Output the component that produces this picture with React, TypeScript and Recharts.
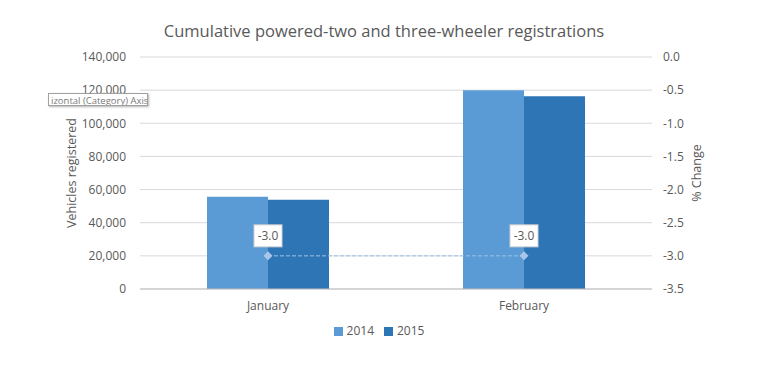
import React from 'react';
import {
  ComposedChart,
  Bar,
  Line,
  XAxis,
  YAxis,
  CartesianGrid,
  Legend,
  LabelList,
} from 'recharts';

const months = ['January', 'February'];
const reg2014 = [55600, 119900];
const reg2015 = [53900, 116300];
const pctChange = [-3.0, -3.0];
const leftTicks = [0, 20000, 40000, 60000, 80000, 100000, 120000, 140000];
const rightTicks = [-3.5, -3.0, -2.5, -2.0, -1.5, -1.0, -0.5, 0];

const data = months.map((m, i) => ({
  month: m,
  y2014: reg2014[i],
  y2015: reg2015[i],
  pct: pctChange[i],
}));

const FONT = '"Open Sans", "Noto Sans", sans-serif';
const GREY = '#595959';

const Diamond = (props: any) => {
  const { cx, cy } = props;
  if (cx == null || cy == null) return null;
  return (
    <path
      d={`M${cx},${cy - 4.5} L${cx + 4.5},${cy} L${cx},${cy + 4.5} L${cx - 4.5},${cy} Z`}
      fill="#a9c6ea"
    />
  );
};

const BoxLabel = (props: any) => {
  const { x, y, value } = props;
  const w = 28;
  const h = 22;
  return (
    <g>
      <rect
        x={x - w / 2}
        y={y - 9 - h}
        width={w}
        height={h}
        fill="#fff"
        stroke="#d0d0d0"
      />
      <text
        x={x}
        y={y - 9 - h / 2 + 4}
        textAnchor="middle"
        fontSize={12}
        fill={GREY}
        fontFamily={FONT}
      >
        {Number(value).toFixed(1)}
      </text>
    </g>
  );
};

export default function App() {
  return (
    <div
      style={{
        position: 'absolute',
        left: 0,
        top: 0,
        width: 768,
        height: 385,
        background: '#fff',
        fontFamily: FONT,
      }}
    >
      <div
        style={{
          position: 'absolute',
          top: 19,
          width: 768,
          textAlign: 'center',
          fontSize: 16.5,
          color: GREY,
        }}
      >
        Cumulative powered-two and three-wheeler registrations
      </div>
      <ComposedChart
        width={768}
        height={385}
        data={data}
        margin={{ top: 57, right: 0, left: 0, bottom: 46 }}
        barGap={0}
      >
        <CartesianGrid vertical={false} stroke="#d9d9d9" yAxisId="left" />
        <XAxis
          dataKey="month"
          axisLine={{ stroke: '#bfbfbf' }}
          tickLine={false}
          tick={{ fontSize: 12, fill: GREY, fontFamily: FONT }}
          tickMargin={6}
          height={33}
        />
        <YAxis
          yAxisId="left"
          width={140}
          domain={[0, 140000]}
          ticks={leftTicks}
          axisLine={false}
          tickLine={false}
          tickMargin={8}
          tickFormatter={(v: number) => v.toLocaleString('en-US')}
          tick={{ fontSize: 12, fill: GREY, fontFamily: FONT }}
          label={{
            value: 'Vehicles registered',
            angle: -90,
            position: 'insideLeft',
            offset: 72,
            style: { fontSize: 12.5, fill: GREY, fontFamily: FONT, textAnchor: 'middle' },
          }}
        />
        <YAxis
          yAxisId="right"
          orientation="right"
          width={116}
          domain={[-3.5, 0]}
          ticks={rightTicks}
          axisLine={false}
          tickLine={false}
          tickMargin={5}
          tickFormatter={(v: number) => v.toFixed(1)}
          tick={{ fontSize: 12, fill: GREY, fontFamily: FONT }}
          label={{
            value: '% Change',
            angle: -90,
            position: 'insideLeft',
            offset: 45,
            style: { fontSize: 12.5, fill: GREY, fontFamily: FONT, textAnchor: 'middle' },
          }}
        />
        <Legend
          verticalAlign="bottom"
          iconType="square"
          iconSize={9}
          wrapperStyle={{ fontSize: 12, color: GREY, fontFamily: FONT }}
          formatter={(v: string) => <span style={{ color: GREY }}>{v}</span>}
        />
        <Bar
          yAxisId="left"
          dataKey="y2014"
          name="2014"
          fill="#5b9bd5"
          barSize={61}
          isAnimationActive={false}
        />
        <Bar
          yAxisId="left"
          dataKey="y2015"
          name="2015"
          fill="#2e75b6"
          barSize={61}
          isAnimationActive={false}
        />
        <Line
          yAxisId="right"
          dataKey="pct"
          name="% Change"
          stroke="#9dc3e6"
          strokeWidth={1}
          strokeDasharray="4 2"
          dot={<Diamond />}
          activeDot={false}
          legendType="none"
          isAnimationActive={false}
        >
          <LabelList dataKey="pct" content={<BoxLabel />} />
        </Line>
      </ComposedChart>
      <div
        style={{
          position: 'absolute',
          left: 48,
          top: 93,
          width: 100,
          height: 13,
          border: '1px solid #a0a0a0',
          boxShadow: '1px 1px 2px rgba(0,0,0,0.3)',
          background: '#fff',
          fontSize: 9.5,
          lineHeight: '13px',
          color: '#7a7a7a',
          whiteSpace: 'nowrap',
          overflow: 'hidden',
          paddingLeft: 2,
          boxSizing: 'border-box',
        }}
      >
        izontal (Category) Axis
      </div>
    </div>
  );
}
